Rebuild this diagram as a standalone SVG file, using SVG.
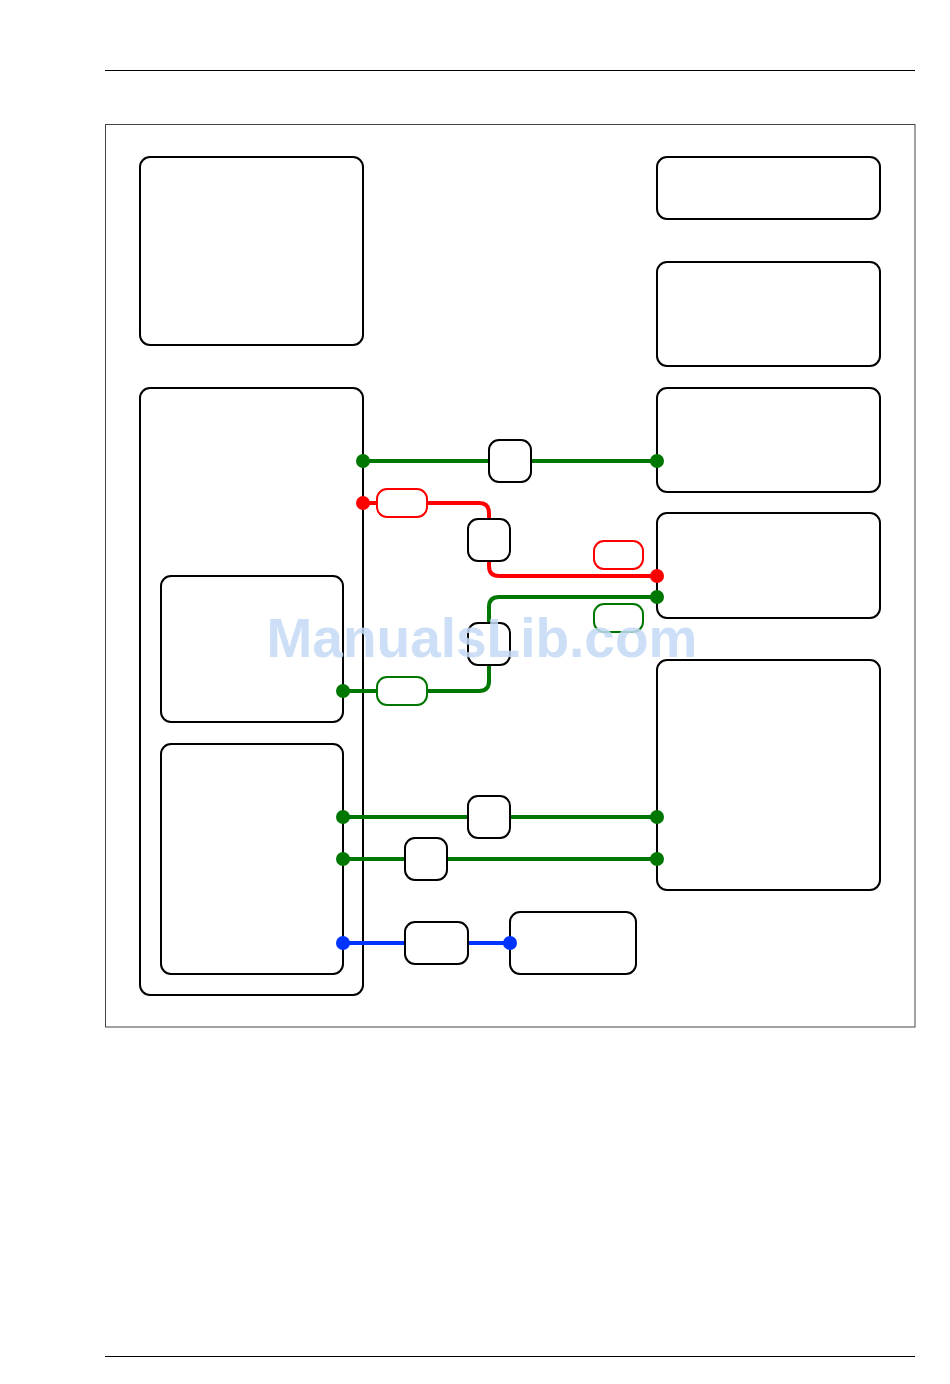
<svg xmlns="http://www.w3.org/2000/svg" width="950" height="1384" viewBox="0 0 950 1384">
<style>
.node{fill:#fff;stroke:#000;stroke-width:2}
.g{stroke:#007700;stroke-width:4;fill:none}
.r{stroke:#ff0000;stroke-width:4;fill:none}
.b{stroke:#0033ff;stroke-width:4;fill:none}
.lg{fill:#fff;stroke:#007700;stroke-width:2}
.lr{fill:#fff;stroke:#ff0000;stroke-width:2}
.dg{fill:#007700}.dr{fill:#ff0000}.db{fill:#0033ff}
</style>
<rect width="950" height="1384" fill="#fff"/>
<line x1="105" y1="70.5" x2="915" y2="70.5" stroke="#000" stroke-width="1"/>
<line x1="105" y1="1356.5" x2="915" y2="1356.5" stroke="#000" stroke-width="1"/>
<rect x="105.5" y="124.5" width="809.5" height="902.5" fill="none" stroke="#444" stroke-width="1"/>
<g id="nodeA"><rect class="node" x="140" y="157" width="223" height="188" rx="10"/></g>
<g id="nodeB"><rect class="node" x="140" y="388" width="223" height="607" rx="10"/></g>
<g id="nodeC"><rect class="node" x="161" y="576" width="182" height="146" rx="10"/></g>
<g id="nodeD"><rect class="node" x="161" y="744" width="182" height="230" rx="10"/></g>
<g id="nodeR1"><rect class="node" x="657" y="157" width="223" height="62" rx="10"/></g>
<g id="nodeR2"><rect class="node" x="657" y="262" width="223" height="104" rx="10"/></g>
<g id="nodeR3"><rect class="node" x="657" y="388" width="223" height="104" rx="10"/></g>
<g id="nodeR4"><rect class="node" x="657" y="513" width="223" height="105" rx="10"/></g>
<g id="nodeR5"><rect class="node" x="657" y="660" width="223" height="230" rx="10"/></g>
<g id="nodeS"><rect class="node" x="510" y="912" width="126" height="62" rx="10"/></g>
<g id="connectors">
<line class="g" x1="363" y1="461" x2="657" y2="461"/>
<path class="r" d="M363 503 H479 Q489 503 489 513 V566 Q489 576 499 576 H657"/>
<path class="g" d="M343 691 H479 Q489 691 489 681 V607 Q489 597 499 597 H657"/>
<line class="g" x1="343" y1="817" x2="657" y2="817"/>
<line class="g" x1="343" y1="859" x2="657" y2="859"/>
<line class="b" x1="343" y1="943" x2="510" y2="943"/>
<rect class="lr" x="377" y="489" width="50" height="28" rx="10"/>
<rect class="lr" x="594" y="541" width="49" height="28" rx="10"/>
<rect class="lg" x="377" y="677" width="50" height="28" rx="10"/>
<rect class="lg" x="594" y="604" width="49" height="28" rx="10"/>
<circle class="dg" cx="363" cy="461" r="7"/>
<circle class="dg" cx="657" cy="461" r="7"/>
<circle class="dr" cx="363" cy="503" r="7"/>
<circle class="dr" cx="657" cy="576" r="7"/>
<circle class="dg" cx="657" cy="597" r="7"/>
<circle class="dg" cx="343" cy="691" r="7"/>
<circle class="dg" cx="343" cy="817" r="7"/>
<circle class="dg" cx="657" cy="817" r="7"/>
<circle class="dg" cx="343" cy="859" r="7"/>
<circle class="dg" cx="657" cy="859" r="7"/>
<circle class="db" cx="343" cy="943" r="7"/>
<circle class="db" cx="510" cy="943" r="7"/>
</g>
<g id="nodeM1"><rect class="node" x="489" y="440" width="42" height="42" rx="10"/></g>
<g id="nodeM2"><rect class="node" x="468" y="519" width="42" height="42" rx="10"/></g>
<g id="nodeM3"><rect class="node" x="468" y="623" width="42" height="42" rx="10"/></g>
<g id="nodeM4"><rect class="node" x="468" y="796" width="42" height="42" rx="10"/></g>
<g id="nodeM5"><rect class="node" x="405" y="838" width="42" height="42" rx="10"/></g>
<g id="nodeM6"><rect class="node" x="405" y="922" width="63" height="42" rx="10"/></g>
<text x="482" y="657" text-anchor="middle" font-family="Liberation Sans, Arial, sans-serif" font-weight="bold" font-size="55" fill="#c4daf6" opacity="0.85">ManualsLib.com</text>
</svg>
